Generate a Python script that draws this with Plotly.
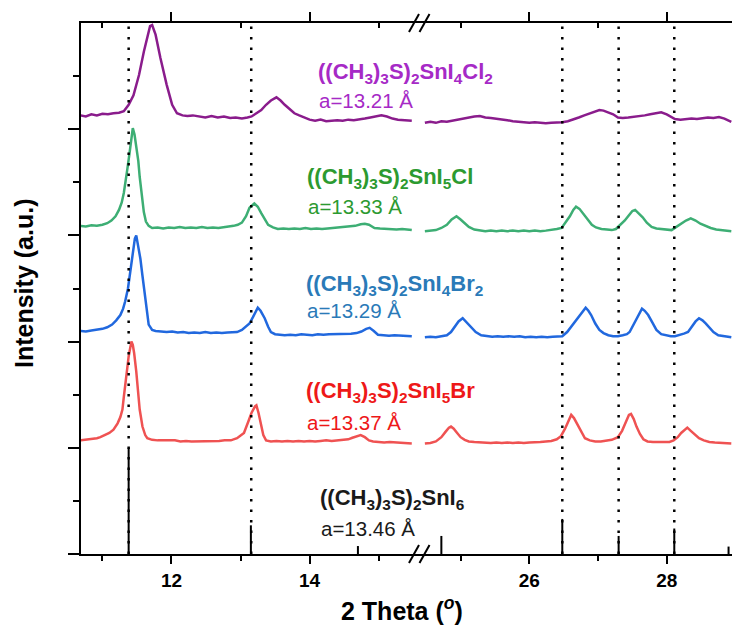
import plotly.graph_objects as go

# ---------------- data (2-theta, stacked intensity in a.u.) ----------------
purple_left = [(10.68,4.13),(10.76,4.12),(10.84,4.14),(10.92,4.13),(11.00,4.145),(11.08,4.14),(11.16,4.15),(11.24,4.155),
    (11.31,4.17),(11.38,4.23),(11.45,4.32),(11.53,4.51),(11.60,4.73),(11.65,4.88),(11.69,4.97),(11.72,4.98),(11.77,4.89),
    (11.84,4.67),(11.93,4.42),(12.01,4.23),(12.08,4.15),(12.16,4.13),(12.23,4.125),(12.31,4.13),(12.40,4.12),(12.49,4.11),
    (12.58,4.125),(12.67,4.11),(12.76,4.12),(12.85,4.105),(12.93,4.11),(13.02,4.10),(13.10,4.11),(13.16,4.12),(13.23,4.15),
    (13.30,4.18),(13.37,4.23),(13.44,4.27),(13.52,4.30),(13.58,4.27),(13.64,4.23),(13.71,4.19),(13.78,4.15),(13.85,4.13),
    (13.92,4.11),(14.00,4.09),(14.08,4.08),(14.16,4.09),(14.24,4.075),(14.32,4.08),(14.40,4.085),(14.48,4.08),(14.56,4.09),
    (14.64,4.085),(14.72,4.09),(14.80,4.10),(14.88,4.11),(14.96,4.12),(15.04,4.13),(15.12,4.12),(15.20,4.10),(15.28,4.09),
    (15.36,4.085),(15.44,4.08),(15.48,4.08)]
purple_right = [(24.48,4.06),(24.56,4.07),(24.64,4.06),(24.72,4.075),(24.80,4.07),(24.88,4.08),(24.96,4.09),(25.04,4.10),
    (25.12,4.115),(25.20,4.12),(25.28,4.125),(25.36,4.11),(25.44,4.105),(25.52,4.10),(25.60,4.09),(25.68,4.085),(25.76,4.075),
    (25.84,4.07),(25.92,4.065),(26.00,4.06),(26.08,4.065),(26.16,4.06),(26.24,4.055),(26.32,4.06),(26.40,4.06),(26.48,4.065),
    (26.56,4.075),(26.64,4.09),(26.72,4.11),(26.80,4.13),(26.88,4.15),(26.96,4.17),(27.02,4.18),(27.08,4.175),(27.15,4.16),
    (27.22,4.14),(27.29,4.11),(27.36,4.105),(27.44,4.11),(27.52,4.115),(27.60,4.12),(27.68,4.13),(27.76,4.14),(27.84,4.15),
    (27.92,4.16),(28.00,4.14),(28.06,4.12),(28.12,4.095),(28.20,4.09),(28.28,4.095),(28.36,4.10),(28.44,4.095),(28.52,4.10),
    (28.60,4.11),(28.68,4.105),(28.76,4.115),(28.84,4.10),(28.94,4.07)]

green_left = [(10.68,3.09),(10.76,3.085),(10.84,3.095),(10.92,3.09),(11.00,3.10),(11.07,3.115),(11.13,3.14),(11.19,3.18),
    (11.24,3.24),(11.28,3.31),(11.31,3.40),(11.34,3.51),(11.36,3.62),(11.39,3.76),(11.41,3.87),(11.44,4.01),(11.465,3.95),
    (11.49,3.85),(11.52,3.70),(11.54,3.55),(11.57,3.38),(11.60,3.22),(11.63,3.13),(11.67,3.09),(11.72,3.07),(11.80,3.075),
    (11.88,3.065),(11.96,3.075),(12.04,3.07),(12.12,3.08),(12.20,3.07),(12.28,3.075),(12.36,3.07),(12.44,3.08),(12.52,3.07),
    (12.60,3.075),(12.68,3.07),(12.76,3.075),(12.84,3.08),(12.90,3.09),(12.96,3.10),(13.02,3.12),(13.08,3.18),(13.13,3.26),
    (13.20,3.30),(13.25,3.27),(13.30,3.21),(13.35,3.15),(13.40,3.10),(13.47,3.075),(13.54,3.06),(13.62,3.065),(13.70,3.06),
    (13.78,3.065),(13.86,3.06),(13.94,3.07),(14.02,3.06),(14.10,3.065),(14.18,3.06),(14.26,3.065),(14.34,3.07),(14.42,3.07),
    (14.50,3.075),(14.58,3.08),(14.66,3.09),(14.74,3.105),(14.80,3.11),(14.86,3.10),(14.94,3.07),(15.02,3.065),(15.10,3.06),
    (15.18,3.06),(15.26,3.055),(15.34,3.06),(15.42,3.055),(15.48,3.05)]
green_right = [(24.48,3.04),(24.56,3.045),(24.64,3.05),(24.72,3.07),(24.80,3.10),(24.87,3.15),(24.94,3.18),(25.00,3.15),
    (25.06,3.11),(25.12,3.08),(25.20,3.055),(25.28,3.045),(25.36,3.04),(25.44,3.045),(25.52,3.04),(25.60,3.045),(25.68,3.04),
    (25.76,3.045),(25.84,3.04),(25.92,3.045),(26.00,3.04),(26.08,3.045),(26.16,3.04),(26.24,3.045),(26.32,3.05),(26.40,3.06),
    (26.47,3.07),(26.53,3.12),(26.59,3.18),(26.64,3.24),(26.68,3.27),(26.73,3.25),(26.79,3.20),(26.85,3.14),(26.91,3.10),
    (26.97,3.075),(27.05,3.06),(27.13,3.055),(27.20,3.05),(27.26,3.06),(27.33,3.10),(27.39,3.14),(27.45,3.19),(27.50,3.23),
    (27.54,3.24),(27.59,3.21),(27.65,3.17),(27.71,3.12),(27.78,3.08),(27.85,3.065),(27.93,3.06),(28.00,3.055),(28.07,3.05),
    (28.14,3.08),(28.21,3.11),(28.28,3.14),(28.35,3.16),(28.42,3.14),(28.49,3.11),(28.56,3.09),(28.64,3.07),(28.72,3.055),
    (28.80,3.05),(28.88,3.045),(28.94,3.04)]

blue_left = [(10.68,2.10),(10.76,2.095),(10.84,2.105),(10.92,2.11),(11.00,2.12),(11.07,2.135),(11.14,2.16),(11.20,2.20),
    (11.26,2.25),(11.30,2.31),(11.33,2.38),(11.37,2.50),(11.40,2.63),(11.44,2.85),(11.47,2.97),(11.49,3.00),(11.52,2.90),
    (11.55,2.78),(11.58,2.62),(11.61,2.47),(11.64,2.30),(11.67,2.16),(11.72,2.11),(11.77,2.10),(11.85,2.095),(11.93,2.09),
    (12.01,2.095),(12.09,2.085),(12.17,2.09),(12.25,2.08),(12.33,2.085),(12.41,2.08),(12.49,2.09),(12.57,2.08),(12.65,2.085),
    (12.73,2.08),(12.81,2.085),(12.89,2.09),(12.95,2.09),(13.02,2.11),(13.08,2.14),(13.13,2.17),(13.18,2.23),(13.22,2.29),
    (13.25,2.32),(13.29,2.29),(13.35,2.22),(13.40,2.14),(13.44,2.09),(13.50,2.07),(13.57,2.065),(13.64,2.06),(13.72,2.065),
    (13.80,2.06),(13.88,2.07),(13.96,2.065),(14.04,2.06),(14.12,2.07),(14.20,2.065),(14.28,2.07),(14.36,2.07),(14.44,2.075),
    (14.52,2.07),(14.60,2.075),(14.68,2.08),(14.75,2.095),(14.82,2.12),(14.87,2.13),(14.93,2.10),(14.99,2.065),(15.07,2.06),
    (15.15,2.055),(15.23,2.06),(15.31,2.055),(15.39,2.05),(15.48,2.05)]
blue_right = [(24.48,2.04),(24.56,2.045),(24.64,2.04),(24.72,2.05),(24.80,2.06),(24.86,2.09),(24.91,2.14),(24.97,2.19),
    (25.03,2.22),(25.09,2.18),(25.16,2.13),(25.22,2.09),(25.30,2.06),(25.38,2.05),(25.46,2.045),(25.54,2.05),(25.62,2.045),
    (25.70,2.05),(25.78,2.045),(25.86,2.05),(25.94,2.04),(26.02,2.045),(26.10,2.04),(26.18,2.045),(26.26,2.04),(26.34,2.045),
    (26.42,2.05),(26.48,2.05),(26.55,2.09),(26.61,2.14),(26.67,2.19),(26.73,2.25),(26.78,2.29),(26.82,2.32),(26.86,2.29),
    (26.90,2.25),(26.96,2.17),(27.02,2.11),(27.08,2.08),(27.15,2.06),(27.22,2.05),(27.29,2.05),(27.36,2.06),(27.42,2.07),
    (27.46,2.09),(27.51,2.15),(27.56,2.22),(27.61,2.28),(27.64,2.31),(27.68,2.29),(27.73,2.25),(27.79,2.18),(27.85,2.11),
    (27.92,2.07),(28.00,2.055),(28.06,2.05),(28.12,2.05),(28.18,2.06),(28.25,2.075),(28.31,2.09),(28.37,2.14),(28.42,2.19),
    (28.47,2.22),(28.52,2.20),(28.57,2.17),(28.62,2.13),(28.68,2.09),(28.75,2.06),(28.83,2.05),(28.94,2.04)]

red_left = [(10.68,1.07),(10.76,1.075),(10.84,1.08),(10.92,1.09),(10.97,1.10),(11.04,1.12),(11.10,1.14),(11.16,1.17),
    (11.22,1.23),(11.26,1.29),(11.29,1.36),(11.31,1.48),(11.33,1.61),(11.36,1.75),(11.38,1.86),(11.40,1.95),(11.42,2.00),
    (11.44,1.97),(11.46,1.89),(11.49,1.72),(11.51,1.54),(11.54,1.36),(11.58,1.20),(11.62,1.12),(11.65,1.09),(11.72,1.075),
    (11.80,1.07),(11.89,1.07),(11.97,1.065),(12.05,1.07),(12.13,1.06),(12.21,1.065),(12.29,1.06),(12.37,1.06),(12.45,1.065),
    (12.53,1.06),(12.61,1.065),(12.69,1.065),(12.77,1.07),(12.86,1.07),(12.95,1.09),(13.05,1.14),(13.12,1.26),(13.16,1.33),
    (13.21,1.39),(13.23,1.40),(13.26,1.33),(13.30,1.20),(13.33,1.12),(13.37,1.07),(13.44,1.06),(13.52,1.065),(13.60,1.06),
    (13.68,1.065),(13.76,1.06),(13.84,1.065),(13.92,1.06),(14.00,1.065),(14.08,1.06),(14.16,1.065),(14.24,1.07),(14.32,1.065),
    (14.40,1.07),(14.48,1.075),(14.56,1.08),(14.62,1.095),(14.68,1.11),(14.74,1.12),(14.80,1.10),(14.86,1.07),(14.92,1.06),
    (15.00,1.055),(15.08,1.05),(15.16,1.055),(15.24,1.05),(15.32,1.045),(15.40,1.045),(15.48,1.04)]
red_right = [(24.48,1.04),(24.56,1.045),(24.64,1.06),(24.72,1.10),(24.78,1.15),(24.83,1.19),(24.86,1.20),(24.90,1.18),
    (24.95,1.14),(25.00,1.10),(25.06,1.075),(25.12,1.06),(25.20,1.055),(25.28,1.05),(25.36,1.05),(25.44,1.045),(25.52,1.05),
    (25.60,1.045),(25.68,1.05),(25.76,1.045),(25.84,1.05),(25.92,1.045),(26.00,1.05),(26.08,1.05),(26.16,1.055),(26.24,1.06),
    (26.32,1.065),(26.40,1.08),(26.46,1.11),(26.52,1.18),(26.57,1.26),(26.61,1.31),(26.65,1.28),(26.70,1.22),(26.75,1.15),
    (26.81,1.09),(26.88,1.07),(26.96,1.06),(27.04,1.06),(27.12,1.065),(27.20,1.075),(27.29,1.10),(27.35,1.16),(27.41,1.25),
    (27.45,1.31),(27.48,1.32),(27.52,1.27),(27.56,1.20),(27.61,1.13),(27.66,1.08),(27.72,1.06),(27.80,1.055),(27.88,1.055),
    (27.96,1.05),(28.04,1.055),(28.10,1.07),(28.16,1.10),(28.21,1.14),(28.26,1.17),(28.30,1.19),(28.35,1.16),(28.41,1.12),
    (28.47,1.09),(28.54,1.07),(28.62,1.055),(28.70,1.05),(28.80,1.045),(28.94,1.04)]

# reference pattern ((CH3)3S)2SnI6 : stick positions and heights
ref_x = [11.38, 13.15, 14.70, 24.72, 26.48, 27.30, 28.11, 28.90]
ref_h = [1.0, 0.27, 0.075, 0.17, 0.33, 0.17, 0.24, 0.07]
# dotted guide lines
guide_x = [11.38, 13.155, 26.48, 27.30, 28.11]

left_ticks, left_minor = [12, 14], [11, 13, 15]
right_ticks, right_minor = [26, 28], [25, 27]
y_ticks = [0, 1, 2, 3, 4]
y_minor = [0.5, 1.5, 2.5, 3.5, 4.5]

labels = [
    ("((CH<sub>3</sub>)<sub>3</sub>S)<sub>2</sub>SnI<sub>4</sub>Cl<sub>2</sub>", "a=13.21 Å", "#A62AC6"),
    ("((CH<sub>3</sub>)<sub>3</sub>S)<sub>2</sub>SnI<sub>5</sub>Cl", "a=13.33 Å", "#2C9A30"),
    ("((CH<sub>3</sub>)<sub>3</sub>S)<sub>2</sub>SnI<sub>4</sub>Br<sub>2</sub>", "a=13.29 Å", "#2A7AB8"),
    ("((CH<sub>3</sub>)<sub>3</sub>S)<sub>2</sub>SnI<sub>5</sub>Br", "a=13.37 Å", "#EE1818"),
    ("((CH<sub>3</sub>)<sub>3</sub>S)<sub>2</sub>SnI<sub>6</sub>", "a=13.46 Å", "#1A1A1A"),
]

# ---------------- layout geometry ----------------
W, H = 732, 627
L, R, T, B = 81, 0, 23, 73
PW, PH = W - L - R, H - T - B
BREAK_PX = 418
d1 = (BREAK_PX - L) / PW
left_range = [10.69, 15.57]
right_range = [24.38, 28.95]
FONT = "Arial, 'Liberation Sans', sans-serif"


def px(xp):
    return (xp - L) / PW


def py(yp):
    return (H - B - yp) / PH


fig = go.Figure()

series = [
    (purple_left, purple_right, "#8A1C8C"),
    (green_left, green_right, "#3DAE74"),
    (blue_left, blue_right, "#2168DE"),
    (red_left, red_right, "#EF5252"),
]
for left, right, col in series:
    for seg, xa in ((left, "x"), (right, "x2")):
        fig.add_trace(go.Scatter(x=[p[0] for p in seg], y=[p[1] for p in seg], xaxis=xa, yaxis="y",
                                 mode="lines", line=dict(color=col, width=2.5), hoverinfo="skip",
                                 showlegend=False))

# reference sticks
for xa, rng in (("x", left_range), ("x2", right_range)):
    sx, sy = [], []
    for xv, hv in zip(ref_x, ref_h):
        if rng[0] <= xv <= rng[1]:
            sx += [xv, xv, None]
            sy += [0, hv, None]
    fig.add_trace(go.Scatter(x=sx, y=sy, xaxis=xa, yaxis="y", mode="lines",
                             line=dict(color="black", width=2), hoverinfo="skip", showlegend=False))

# dotted guides (drawn on the top axes, above the curves)
for xa, rng in (("x3", left_range), ("x4", right_range)):
    gx, gy = [], []
    for xv in guide_x:
        if rng[0] <= xv <= rng[1]:
            gx += [xv, xv, None]
            gy += [0, 5, None]
    fig.add_trace(go.Scatter(x=gx, y=gy, xaxis=xa, yaxis="y", mode="lines",
                             line=dict(color="black", width=2.5, dash="2.5px,8px"),
                             hoverinfo="skip", showlegend=False))

axis_common = dict(showline=True, linecolor="black", linewidth=2, showgrid=False, zeroline=False,
                   tickcolor="black", tickwidth=2, tickmode="array")
tickfont = dict(family=FONT, size=19, color="black", weight="bold")

fig.update_layout(
    width=W, height=H, margin=dict(l=L, r=R, t=T, b=B),
    paper_bgcolor="white", plot_bgcolor="white", showlegend=False,
    xaxis=dict(domain=[0, d1], range=left_range, anchor="y", ticks="outside", ticklen=8,
               tickvals=left_ticks, tickfont=tickfont, ticklabelstandoff=0,
               minor=dict(tickmode="array", tickvals=left_minor, ticks="outside", ticklen=5,
                          tickwidth=2, tickcolor="black"), **axis_common),
    xaxis2=dict(domain=[d1, 1], range=right_range, anchor="y", ticks="outside", ticklen=8,
                tickvals=right_ticks, tickfont=tickfont, ticklabelstandoff=0,
                minor=dict(tickmode="array", tickvals=right_minor, ticks="outside", ticklen=5,
                           tickwidth=2, tickcolor="black"), **axis_common),
    xaxis3=dict(domain=[0, d1], range=left_range, overlaying="x", side="top", anchor="y",
                ticks="outside", ticklen=9, tickvals=left_ticks, showticklabels=False,
                minor=dict(tickmode="array", tickvals=left_minor, ticks="inside", ticklen=5,
                           tickwidth=2, tickcolor="black"), **axis_common),
    xaxis4=dict(domain=[d1, 1], range=right_range, overlaying="x2", side="top", anchor="y",
                ticks="outside", ticklen=9, tickvals=right_ticks, showticklabels=False,
                minor=dict(tickmode="array", tickvals=right_minor, ticks="inside", ticklen=5,
                           tickwidth=2, tickcolor="black"), **axis_common),
    yaxis=dict(range=[0, 5], domain=[0, 1], anchor="x", ticks="outside", ticklen=11,
               showline=True, linecolor="black", linewidth=2, showgrid=False, zeroline=False,
               tickcolor="black", tickwidth=2, tickmode="array", tickvals=y_ticks,
               showticklabels=False,
               minor=dict(tickmode="array", tickvals=y_minor, ticks="outside", ticklen=6,
                          tickwidth=2, tickcolor="black")),
)

# axis break marks "//"
shapes = []
for yc in (23, H - B):
    for xc in (414, 424.5):
        shapes.append(dict(type="line", xref="paper", yref="paper",
                           x0=px(xc - 5), y0=py(yc + 9), x1=px(xc + 5), y1=py(yc - 9),
                           line=dict(color="black", width=2)))
fig.update_layout(shapes=shapes)

# sample labels
label_rows = [(73, 101), (178, 206), (285, 310), (392, 422), (499, 528)]
label_x = [316, 305, 304, 304, 318]
for (formula, latt, col), (y1, y2), xl in zip(labels, label_rows, label_x):
    fig.add_annotation(x=px(xl), y=py(y1), xref="paper", yref="paper", xanchor="left", yanchor="middle",
                       text="<b>" + formula + "</b>", showarrow=False,
                       font=dict(family=FONT, size=22, color=col))
    fig.add_annotation(x=px(xl + 1), y=py(y2), xref="paper", yref="paper", xanchor="left", yanchor="middle",
                       text=latt, showarrow=False, font=dict(family=FONT, size=20.5, color=col))

# axis titles
fig.add_annotation(x=px(24), y=py(284), xref="paper", yref="paper", textangle=-90,
                   xanchor="center", yanchor="middle", showarrow=False,
                   text="<b>Intensity (a.u.)</b>", font=dict(family=FONT, size=25, color="black"))
fig.add_annotation(x=px(402), y=py(609), xref="paper", yref="paper",
                   xanchor="center", yanchor="middle", showarrow=False,
                   text="<b>2 Theta (<sup><i>o</i></sup>)</b>", font=dict(family=FONT, size=25, color="black"))

fig.write_html("out.html", config={"displayModeBar": False},
               post_script="document.body.style.margin='0';document.body.style.overflow='hidden';")
